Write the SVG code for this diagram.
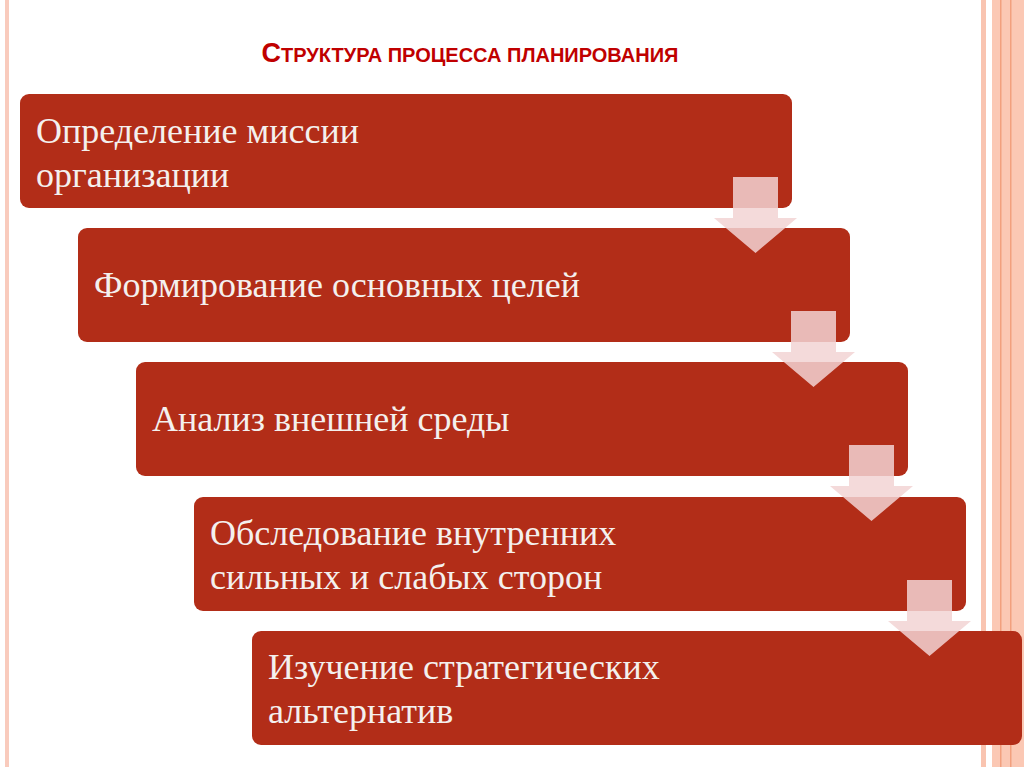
<svg xmlns="http://www.w3.org/2000/svg" width="1024" height="767" viewBox="0 0 1024 767">
<defs><style>
.box{fill:#b22d18}
.t{font-family:"Liberation Serif",serif;font-size:36px;fill:#f4f0ee}
.arr{fill:#f2d4d4;fill-opacity:0.85}
</style></defs>
<rect width="1024" height="767" fill="#fff"/>
<rect x="5" y="0" width="4" height="767" fill="#f9cbbd"/>
<rect x="981" y="0" width="5" height="767" fill="#f9c4b0"/>
<rect x="992" y="0" width="32" height="767" fill="#fbc8b4"/>
<rect x="1000" y="0" width="1.5" height="767" fill="#f2a07e"/>
<rect x="1010" y="0" width="1.5" height="767" fill="#f2a07e"/>
<text x="470" y="62" text-anchor="middle" font-family="Liberation Sans,Arial,sans-serif" font-weight="bold" fill="#c00000" font-size="20"><tspan font-size="27">С</tspan>ТРУКТУРА ПРОЦЕССА ПЛАНИРОВАНИЯ</text>
<g id="n1"><rect class="box" x="20" y="94" width="772" height="114" rx="9"/><text class="t" x="36" y="143">Определение миссии</text><text class="t" x="36" y="187">организации</text></g>
<g id="n2"><rect class="box" x="78" y="228" width="772" height="114" rx="9"/><text class="t" x="94" y="297">Формирование основных целей</text></g>
<g id="n3"><rect class="box" x="136" y="362" width="772" height="114" rx="9"/><text class="t" x="152" y="431">Анализ внешней среды</text></g>
<g id="n4"><rect class="box" x="194" y="497" width="772" height="114" rx="9"/><text class="t" x="210" y="545">Обследование внутренних</text><text class="t" x="210" y="589">сильных и слабых сторон</text></g>
<g id="n5"><rect class="box" x="252" y="631" width="770" height="114" rx="9"/><text class="t" x="268" y="679">Изучение стратегических</text><text class="t" x="268" y="723">альтернатив</text></g>
<g id="connectors">
<path class="arr" d="M733 177H778V218H797L755.5 253L714 218H733Z"/>
<path class="arr" d="M791 311H836V352H855L813.5 387L772 352H791Z"/>
<path class="arr" d="M849 445H894V486H913L871.5 521L830 486H849Z"/>
<path class="arr" d="M907 580H952V621H971L929.5 656L888 621H907Z"/>
</g>
</svg>
